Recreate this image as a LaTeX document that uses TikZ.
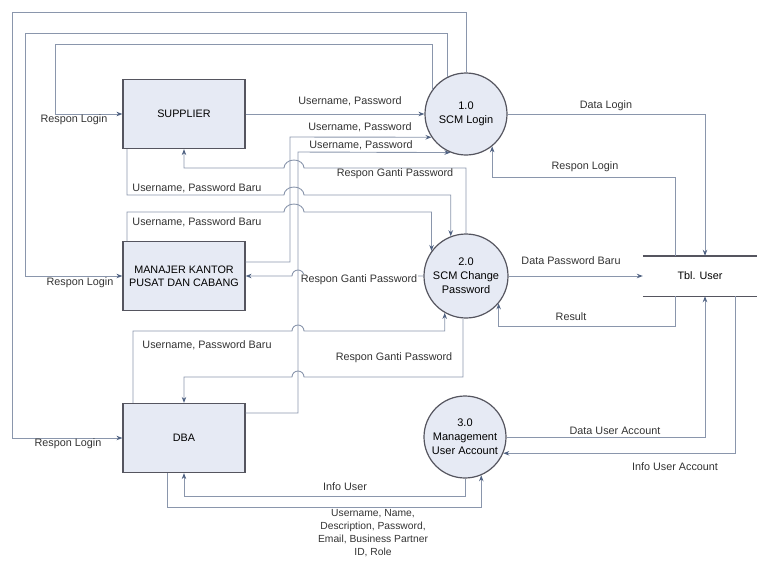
\documentclass[tikz,border=0pt]{standalone}
\usepackage{fontspec}
\setmainfont{Liberation Sans}
\usetikzlibrary{arrows.meta}
\definecolor{flowline}{RGB}{138,150,172}
\definecolor{tipcol}{RGB}{80,98,130}
\definecolor{boxfill}{RGB}{230,234,244}
\definecolor{edgecol}{RGB}{85,85,95}
\begin{document}
\begin{tikzpicture}[x=1pt,y=-1pt,
  every node/.style={font=\fontsize{10.8}{13}\selectfont, inner sep=0pt},
  entity/.style={draw=edgecol, line width=1.2pt, fill=boxfill, minimum width=122pt, minimum height=69pt, align=center},
  process/.style={circle, draw=edgecol, line width=1.2pt, fill=boxfill, minimum size=82pt, align=center, font=\fontsize{11}{14}\selectfont},
  flow/.style={draw=flowline, line width=0.9pt, -{Stealth[length=6pt,width=4.5pt,color=tipcol]}},
  lbl/.style={text=black!80},
  lblw/.style={text=black!80, fill=white, inner sep=1pt},
  storeline/.style={draw=edgecol, line width=1.4pt}
]
\useasboundingbox (0,0) rectangle (757,563);

% external entities
\node[entity] (sup) at (184,114) {SUPPLIER};
\node[entity] (man) at (184,276) {MANAJER KANTOR\\PUSAT DAN CABANG};
\node[entity] (dba) at (184,438) {DBA};

% processes
\node[process] (p1) at (466,114) {1.0\\SCM Login};
\node[process, minimum size=84pt] (p2) at (466,276) {2.0\\SCM Change\\Password};
\node[process] (p3) at (465,437) {3.0\\Management\\User Account};

% data store
\node[minimum width=114pt, minimum height=40pt] (tbl) at (700,276) {Tbl. User};
\draw[storeline] (tbl.north west) -- (tbl.north east);
\draw[storeline] (tbl.south west) -- (tbl.south east);

% login responses back to the entities
\draw[flow] (p1.north) |- (12,12) |- (dba.west);
\draw[flow] (p1.116) |- (25,33) |- (man.west);
\draw[flow] (p1.144) |- (55,44) |- (sup.west);
\node[lbl] at (74,120) {Respon Login};
\node[lbl] at (80,283) {Respon Login};
\node[lbl] at (68,444) {Respon Login};

% login requests
\draw[flow] (sup.east) -- (p1.west);
\draw[flow] (man.east |- 0,262) -| (290,137) -- (p1.214);
\draw[flow] (dba.east |- 0,413) -| (298,152) -- (p1.248);
\node[lbl] at (350,101) {Username, Password};
\node[lbl] at (360,127) {Username, Password};
\node[lbl] at (361,145) {Username, Password};

% password change: responses
\draw[flow] (p2.north) |- (304,168)
  arc[start angle=0,end angle=-180,x radius=10,y radius=8] -| (sup.south);
\node[lbl] at (395,174) {Respon Ganti Password};
\draw[flow] (p2.west) -- (304,276)
  arc[start angle=0,end angle=-180,x radius=6,y radius=6] -- (man.east);
\node[lblw] at (359,280) {Respon Ganti Password};
\draw[flow] (p2.266) |- (304,377)
  arc[start angle=0,end angle=-180,x radius=6,y radius=6] -| (dba.north);
\node[lbl] at (394,358) {Respon Ganti Password};

% password change: requests
\draw[flow] (127,0 |- sup.south) |- (284,195)
  arc[start angle=180,end angle=360,x radius=10,y radius=8] -| (p2.111);
\node[lbl] at (197,188) {Username, Password Baru};
\draw[flow] (127,0 |- man.north) |- (284,212)
  arc[start angle=180,end angle=360,x radius=10,y radius=8] -| (p2.144);
\node[lbl] at (197,222) {Username, Password Baru};
\draw[flow] (133,0 |- dba.north) |- (292,331)
  arc[start angle=180,end angle=360,x radius=6,y radius=6] -| (p2.240);
\node[lbl] at (207,345) {Username, Password Baru};

% data store exchanges
\draw[flow] (p1.east) -| (705,0 |- tbl.north);
\node[lbl] at (606,106) {Data Login};
\draw[flow] (675,0 |- tbl.north) |- (p1.309 |- 0,177) -- (p1.309);
\node[lbl] at (585,167) {Respon Login};
\draw[flow] (p2.east) -- (tbl.west);
\node[lbl] at (571,261) {Data Password Baru};
\draw[flow] (675,0 |- tbl.south) |- (p2.320 |- 0,326) -- (p2.320);
\node[lbl] at (571,317) {Result};
\draw[flow] (p3.east) -| (705,0 |- tbl.south);
\node[lbl] at (615,431) {Data User Account};
\draw[flow] (735,0 |- tbl.south) |- (p3.337);
\node[lbl] at (675,467) {Info User Account};

% user account management
\draw[flow] (p3.south) -- (p3.south |- 0,496) -| (dba.south);
\node[lbl] at (345,487) {Info User};
\draw[flow] (167,0 |- dba.south) |- (p3.293 |- 0,507) -- (p3.293);
\node[lbl, align=center, font=\fontsize{10.3}{13}\selectfont] at (373,533)
  {Username, Name,\\Description, Password,\\Email, Business Partner\\ID, Role};
\end{tikzpicture}
\end{document}
